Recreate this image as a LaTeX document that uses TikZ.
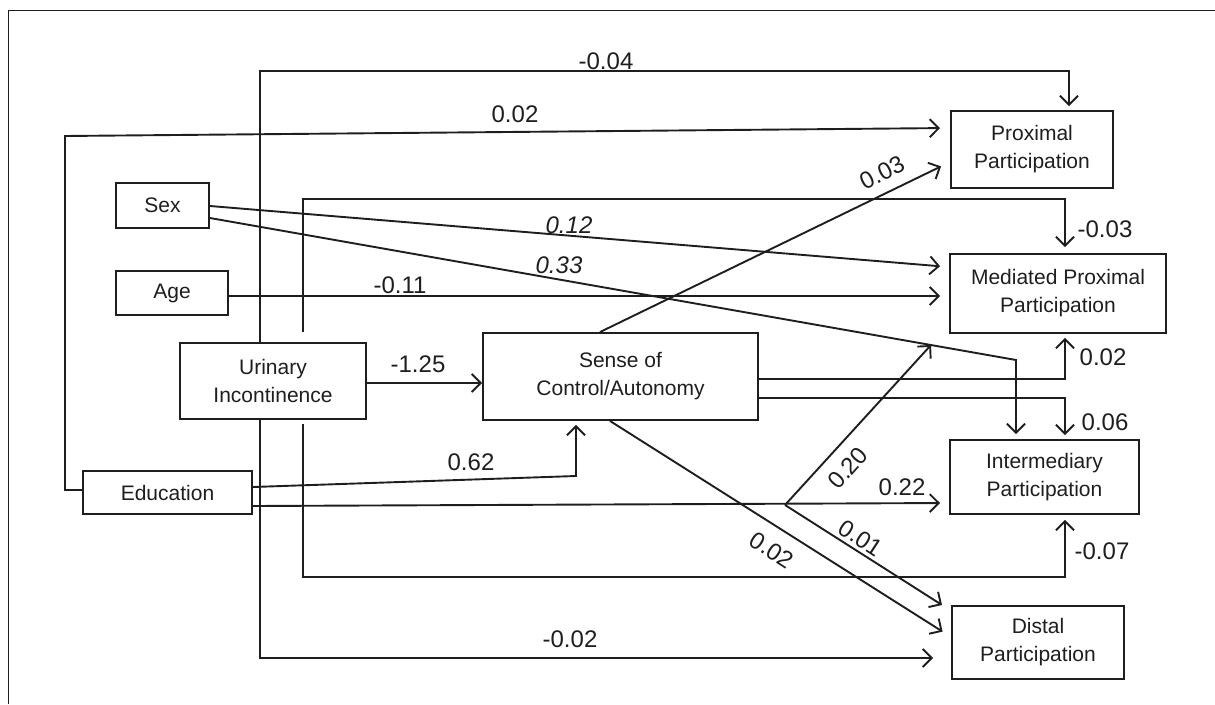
\documentclass[tikz,border=0pt]{standalone}
\usepackage{fontspec}
\setmainfont{Liberation Sans}
\usetikzlibrary{arrows.meta,calc}
\definecolor{ink}{RGB}{30,30,30}
\begin{document}
\begin{tikzpicture}[x=1pt,y=-1pt,
  box/.style={draw=ink,line width=1.9pt,align=center,inner sep=0pt,font=\fontsize{21}{28}\selectfont,text=ink},
  link/.style={draw=ink,line width=1.9pt},
  arr/.style={link,-{Straight Barb[length=9pt,width=18pt,line width=1.9pt]}},
  lab/.style={font=\fontsize{24}{28}\selectfont,text=ink,inner sep=0pt}]
\useasboundingbox (0,0) rectangle (1215,704);
\draw[ink,line width=1pt] (8,704) -- (8,10) -- (1215,10);

% boxes
\node[box,minimum width=93pt,minimum height=45pt] (sex) at (162.5,205.5) {Sex};
\node[box,minimum width=112pt,minimum height=44pt] (age) at (172,293) {Age};
\node[box,minimum width=186pt,minimum height=76pt] (ui) at (273,381) {Urinary\\Incontinence};
\node[box,minimum width=169pt,minimum height=43pt] (edu) at (167.5,492.5) {Education};
\node[box,minimum width=275pt,minimum height=87pt] (soc) at (620.5,376.5) {Sense of\\Control/Autonomy};
\node[box,minimum width=162pt,minimum height=77pt] (pp) at (1032,149.5) {Proximal\\Participation};
\node[box,minimum width=216pt,minimum height=79pt] (mpp) at (1058,293.5) {Mediated Proximal\\Participation};
\node[box,minimum width=189pt,minimum height=74pt] (ip) at (1044.5,477) {Intermediary\\Participation};
\node[box,minimum width=172pt,minimum height=73pt] (dp) at (1038,642.5) {Distal\\Participation};

% coordinates
\coordinate (br) at (785,505);
\coordinate (tmpp) at (931,345);
\coordinate (tdp) at (942,605);

% Urinary incontinence direct paths
\draw[arr,shorten >=4pt] (ui.north -| 260,0) |- (1069,71) -- (pp.north -| 1069,0);
\draw[arr,shorten >=18pt] (ui.south -| 260,0) |- (dp.west |- 0,658);
\draw[arr,shorten <=10pt,shorten >=6pt] (ui.north -| 303,0) |- (1065,199) -- (mpp.north -| 1065,0);
\draw[arr,shorten <=4pt,shorten >=5pt] (ui.south -| 303,0) |- (1065,577) -- (ip.south -| 1065,0);
\draw[arr] (ui.east |- 0,383) -- (soc.west |- 0,383);

% Education
\draw[arr,shorten >=10pt] (edu.west |- 0,490) -- (65,490) -- (65,136) -- (pp.west |- 0,128);
\draw[arr,shorten >=4pt] (edu.east |- 0,487) -- (576,476) -- (soc.south -| 576,0);
\draw[arr,shorten >=9pt] (edu.east |- 0,506) -- (ip.west |- 0,503);
\draw[arr] (br) -- (tmpp);
\draw[arr] (br) -- (tdp);

% Sex and Age
\draw[arr,shorten >=9pt] (sex.east |- 0,206) -- (mpp.west |- 0,267);
\draw[arr,shorten >=5pt] (sex.east |- 0,218) -- (1016,360) -- (ip.north -| 1016,0);
\draw[arr,shorten >=9pt] (age.east |- 0,296) -- (mpp.west |- 0,296);

% Sense of control
\draw[arr,shorten >=10pt] (soc.north -| 600,0) -- (pp.west |- 0,162);
\draw[arr,shorten >=4pt] (soc.east |- 0,379) -| (mpp.south -| 1065,0);
\draw[arr,shorten >=4pt] (soc.east |- 0,398) -| (ip.north -| 1065,0);
\draw[arr,shorten >=10pt] (soc.south -| 610,0) -- (dp.west |- 0,637);

% labels
\node[lab] (l1) at (606,61) {-0.04};
\node[lab] (l2) at (515,114) {0.02};
\node[lab] (l3) at (569,225) {\itshape 0.12};
\node[lab] (l4) at (559,265) {\itshape 0.33};
\node[lab] (l5) at (400,285) {-0.11};
\node[lab] (l6) at (418,364) {-1.25};
\node[lab] (l7) at (471,462) {0.62};
\node[lab] (l8) at (570,639) {-0.02};
\node[lab,rotate=27] (l9) at (882,173) {0.03};
\node[lab] (l10) at (1105,229) {-0.03};
\node[lab] (l11) at (1103,357) {0.02};
\node[lab] (l12) at (1105,422) {0.06};
\node[lab] (l13) at (902,487) {0.22};
\node[lab] (l14) at (1102,551) {-0.07};
\node[lab,rotate=48] (l15) at (848,468) {0.20};
\node[lab,rotate=-33] (l16) at (861,538) {0.01};
\node[lab,rotate=-33] (l17) at (772,550) {0.02};
\end{tikzpicture}
\end{document}
